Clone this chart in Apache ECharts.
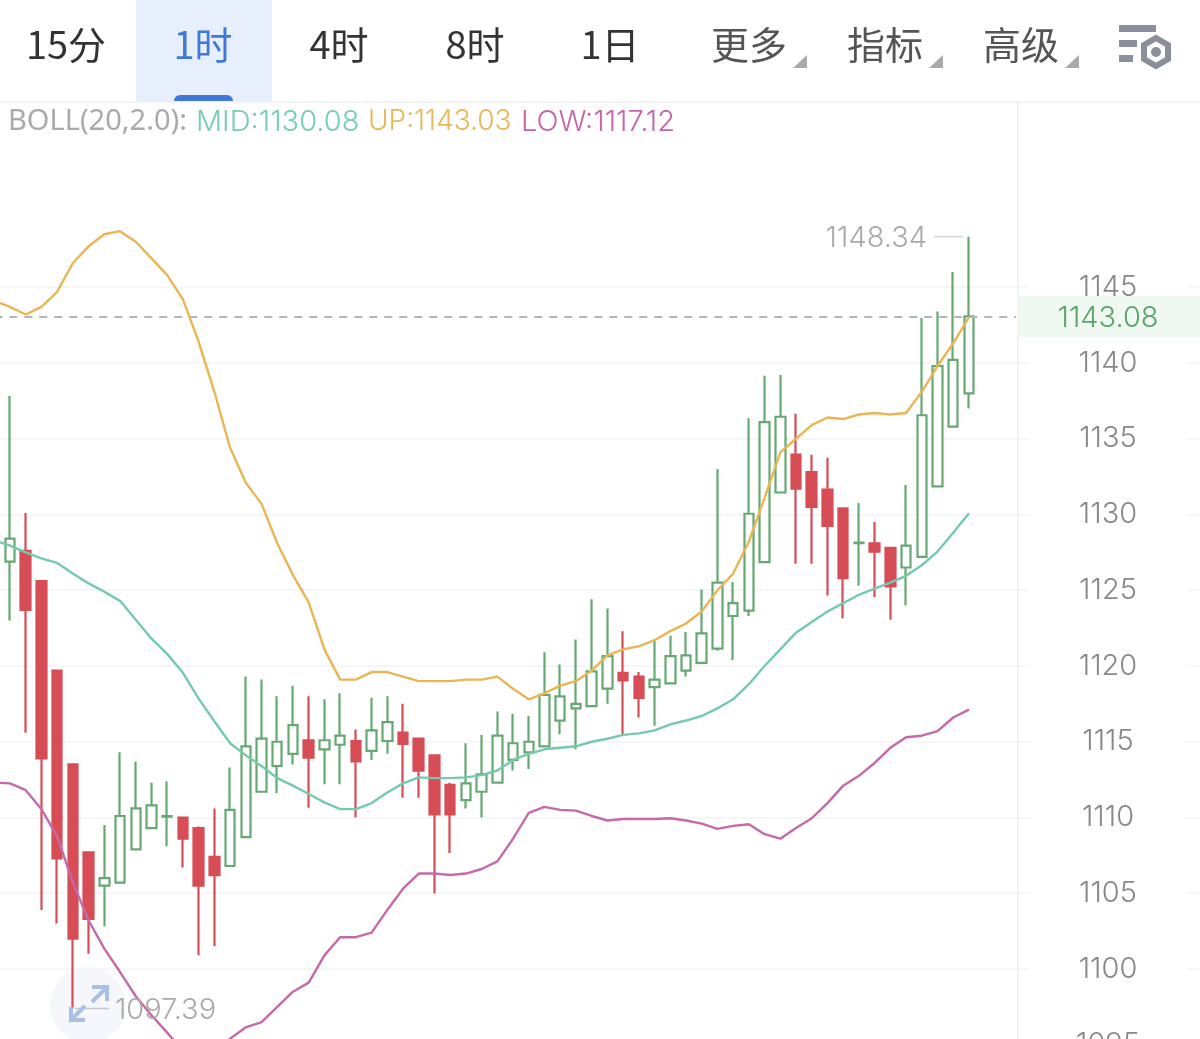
<!DOCTYPE html>
<html>
<head>
<meta charset="utf-8">
<style>
    html, body { margin: 0; padding: 0; background: #fff; }
    #main { width: 1200px; height: 1039px; }
</style>
<script src="https://cdn.jsdelivr.net/npm/echarts@6/dist/echarts.min.js"></script>
</head>
<body>
<div id="main"></div>
<script>
// [open, close, low, high]
var candles = [
    [1126.89, 1128.41, 1123.0, 1137.82],
    [1127.6, 1123.7, 1115.6, 1130.1],
    [1125.6, 1113.9, 1103.9, 1125.6],
    [1119.7, 1107.3, 1103.0, 1119.7],
    [1113.5, 1102.0, 1097.39, 1113.5],
    [1107.7, 1103.3, 1101.0, 1107.7],
    [1105.5, 1106.0, 1102.8, 1109.5],
    [1105.7, 1110.1, 1105.7, 1114.3],
    [1107.9, 1110.6, 1107.9, 1113.7],
    [1109.3, 1110.8, 1109.3, 1112.3],
    [1110.05, 1110.1, 1108.1, 1112.4],
    [1110.0, 1108.6, 1106.7, 1110.0],
    [1109.3, 1105.5, 1100.9, 1109.4],
    [1107.4, 1106.2, 1101.5, 1110.6],
    [1106.8, 1110.5, 1106.8, 1113.3],
    [1108.7, 1114.7, 1108.7, 1119.3],
    [1111.7, 1115.2, 1111.7, 1119.1],
    [1113.4, 1115.0, 1111.6, 1118.0],
    [1114.2, 1116.1, 1113.5, 1118.7],
    [1115.1, 1113.95, 1110.65, 1118.0],
    [1114.5, 1115.1, 1112.2, 1117.8],
    [1114.8, 1115.4, 1112.2, 1118.2],
    [1115.05, 1113.7, 1110.0, 1115.8],
    [1114.4, 1115.75, 1113.8, 1117.9],
    [1115.05, 1116.3, 1114.2, 1118.0],
    [1115.6, 1114.85, 1111.3, 1117.5],
    [1115.2, 1113.1, 1111.3, 1115.2],
    [1114.1, 1110.2, 1105.0, 1114.1],
    [1112.15, 1110.2, 1107.65, 1112.3],
    [1111.15, 1112.25, 1110.6, 1114.9],
    [1111.7, 1112.85, 1110.0, 1115.45],
    [1112.3, 1115.4, 1112.3, 1117.0],
    [1113.8, 1114.9, 1113.1, 1116.85],
    [1114.3, 1115.0, 1113.2, 1116.7],
    [1114.7, 1118.1, 1114.7, 1120.9],
    [1116.4, 1118.0, 1115.5, 1120.1],
    [1117.2, 1117.5, 1114.5, 1121.75],
    [1117.35, 1119.65, 1117.3, 1124.4],
    [1118.5, 1120.65, 1117.5, 1123.8],
    [1119.55, 1119.05, 1115.4, 1122.3],
    [1119.3, 1117.9, 1116.6, 1119.6],
    [1118.6, 1119.1, 1116.05, 1121.75],
    [1118.85, 1120.65, 1118.85, 1122.0],
    [1119.7, 1120.7, 1119.3, 1122.25],
    [1120.2, 1122.15, 1120.2, 1125.05],
    [1121.15, 1125.5, 1121.0, 1133.0],
    [1123.3, 1124.15, 1120.4, 1125.55],
    [1123.65, 1130.05, 1123.3, 1136.35],
    [1126.85, 1136.1, 1126.85, 1139.15],
    [1131.45, 1136.45, 1131.45, 1139.2],
    [1133.95, 1131.7, 1126.75, 1136.65],
    [1132.8, 1130.5, 1126.75, 1133.95],
    [1131.65, 1129.25, 1124.65, 1133.75],
    [1130.4, 1125.8, 1123.15, 1130.4],
    [1128.1, 1128.15, 1125.3, 1130.75],
    [1128.1, 1127.55, 1124.55, 1129.5],
    [1127.8, 1125.25, 1123.05, 1127.8],
    [1126.5, 1127.95, 1124.0, 1131.95],
    [1127.2, 1136.55, 1127.2, 1142.97],
    [1131.85, 1139.8, 1131.85, 1143.4],
    [1135.8, 1140.2, 1135.8, 1146.0],
    [1138.0, 1143.08, 1137.0, 1148.34]
];

// first value of each band belongs to the candle cut off at the left edge
var bollUp = [
    1144.1, 1143.7, 1143.2, 1143.7, 1144.7, 1146.6, 1147.7, 1148.5, 1148.7, 1148.0,
    1146.9, 1145.8, 1144.2, 1141.4, 1138.1, 1134.4, 1132.1, 1130.7, 1128.1, 1126.0,
    1124.2, 1121.1, 1119.1, 1119.1, 1119.6, 1119.6, 1119.3, 1119.0, 1119.0, 1119.0,
    1119.1, 1119.1, 1119.3, 1118.5, 1117.8, 1118.2, 1118.7, 1119.0, 1119.7, 1120.7,
    1121.1, 1121.3, 1121.7, 1122.3, 1122.8, 1123.6, 1125.0, 1126.1, 1128.2, 1131.1,
    1134.1, 1135.0, 1135.9, 1136.4, 1136.3, 1136.6, 1136.7, 1136.6, 1136.7, 1138.1,
    1139.8, 1141.3, 1143.03
];
var bollMid = [
    1128.3, 1127.95, 1127.5, 1127.1, 1126.8, 1126.1, 1125.45, 1124.9, 1124.3, 1123.05,
    1121.8, 1120.8, 1119.55, 1117.85, 1116.35, 1114.9, 1114.1, 1113.4, 1112.6, 1112.1,
    1111.55, 1111.0, 1110.55, 1110.55, 1110.95, 1111.65, 1112.25, 1112.65, 1112.6, 1112.6,
    1112.65, 1112.8, 1113.1, 1113.8, 1114.2, 1114.5, 1114.6, 1114.7, 1115.0, 1115.2,
    1115.45, 1115.55, 1115.75, 1116.15, 1116.4, 1116.7, 1117.2, 1117.8, 1118.8, 1120.0,
    1121.1, 1122.2, 1122.9, 1123.6, 1124.15, 1124.7, 1125.1, 1125.5, 1125.95, 1126.65,
    1127.55, 1128.8, 1130.08
];
var bollLow = [
    1112.3, 1112.25, 1111.8, 1110.55, 1108.75, 1105.7, 1103.2, 1101.35, 1099.8, 1098.2,
    1096.95, 1095.8, 1094.6, 1094.0, 1094.6, 1095.4, 1096.15, 1096.5, 1097.5, 1098.5,
    1099.1, 1100.9, 1102.1, 1102.1, 1102.4, 1103.9, 1105.3, 1106.3, 1106.3, 1106.2,
    1106.3, 1106.6, 1107.1, 1108.6, 1110.3, 1110.7, 1110.5, 1110.45, 1110.1, 1109.8,
    1109.9, 1109.9, 1109.9, 1109.95, 1109.8, 1109.6, 1109.25, 1109.45, 1109.55, 1108.9,
    1108.6, 1109.3, 1109.95, 1110.95, 1112.1, 1112.75, 1113.6, 1114.6, 1115.3, 1115.4,
    1115.7, 1116.6, 1117.12
];

var yTicks = [1095, 1100, 1105, 1110, 1115, 1120, 1125, 1130, 1135, 1140, 1145];
var tabs = ['15分', '1时', '4时', '8时', '1日'];
var menus = ['更多', '指标', '高级'];

const lastPrice = 1143.08;
const maxPrice = 1148.34;
const minPrice = 1097.39;

const up_color = '#66a874';
const down_color = '#d64d55';
const text_font = '"Noto Sans", sans-serif';
const num_font = 'Inter, sans-serif';
const cjk_font = '"Noto Sans CJK SC", sans-serif';

var categories = [];
for (var i = 0; i < candles.length + 16; i++) {
    categories.push(String(i));
}
var candleData = [['-', '-', '-', '-']].concat(candles);

function lineSeries(name, data, color) {
    return {
        name: name,
        type: 'line',
        data: data,
        showSymbol: false,
        silent: true,
        z: 5,
        lineStyle: { color: color, width: 2.4 }
    };
}

function toolbar() {
    var items = [
        { type: 'rect', shape: { x: 136, y: 0, width: 136, height: 102 }, style: { fill: '#e6effb' } },
        { type: 'rect', shape: { x: 174, y: 95, width: 59, height: 7, r: [6, 6, 0, 0] }, style: { fill: '#3f78d8' } },
        { type: 'line', shape: { x1: 0, y1: 102, x2: 1200, y2: 102 }, style: { stroke: '#f3f3f3', lineWidth: 2 } },
        { type: 'line', shape: { x1: 1018, y1: 102, x2: 1018, y2: 1039 }, style: { stroke: '#f3f3f3', lineWidth: 2 } }
    ];
    var tab_x = [66, 203, 339, 475, 610];
    for (var i = 0; i < tabs.length; i++) {
        items.push({
            type: 'text', x: tab_x[i], y: 45,
            style: {
                text: tabs[i], fill: i == 1 ? '#3f78d8' : '#333', font: '38px ' + cjk_font,
                align: 'center', verticalAlign: 'middle'
            }
        });
    }
    var menu_x = [749, 885, 1021];
    for (var j = 0; j < menus.length; j++) {
        items.push({
            type: 'text', x: menu_x[j], y: 45,
            style: {
                text: menus[j], fill: '#555', font: '38px ' + cjk_font,
                align: 'center', verticalAlign: 'middle'
            }
        });
        var tx = menu_x[j] + 58;
        items.push({
            type: 'polygon',
            shape: { points: [[tx, 68], [tx - 14, 68], [tx, 55]] },
            style: { fill: '#aaa' }
        });
    }
    // settings icon
    var bars = [[1119, 25, 37], [1119, 40, 18], [1119, 55, 14]];
    for (var k = 0; k < bars.length; k++) {
        items.push({
            type: 'rect',
            shape: { x: bars[k][0], y: bars[k][1], width: bars[k][2], height: 7 },
            style: { fill: '#8b8f9b' }
        });
    }
    items.push({
        type: 'polygon',
        shape: { points: [[1156, 38], [1168, 45], [1168, 59], [1156, 66], [1144, 59], [1144, 45]] },
        style: { fill: '#fff', stroke: '#8b8f9b', lineWidth: 6 }
    });
    items.push({ type: 'circle', shape: { cx: 1156, cy: 52, r: 5 }, style: { fill: '#8b8f9b' } });
    return items;
}

function legendRow() {
    var parts = [
        ['BOLL(20,2.0):', 8, '#aaaaaa', '29px ' + text_font],
        ['MID:1130.08', 196, '#76cdb0', '300 29px ' + num_font],
        ['UP:1143.03', 368, '#e8b75a', '300 28px ' + num_font],
        ['LOW:1117.12', 521, '#c466a8', '300 29px ' + num_font]
    ];
    return parts.map(function (p) {
        return {
            type: 'text', x: p[1], y: 122,
            style: { text: p[0], fill: p[2], font: p[3], verticalAlign: 'middle' }
        };
    });
}

function priceTag() {
    return [
        { type: 'rect', z: 100, shape: { x: 1019, y: 296, width: 181, height: 41 }, style: { fill: '#eff9f2' } },
        {
            type: 'text', z: 101, x: 1108, y: 318,
            style: {
                text: lastPrice.toFixed(2), fill: '#5aa469', font: '300 29px ' + num_font,
                align: 'center', verticalAlign: 'middle'
            }
        }
    ];
}

function expandIcon() {
    var arrow = { stroke: '#a9c0e6', lineWidth: 4, fill: null };
    return [
        { type: 'circle', z: 0, shape: { cx: 88, cy: 1005, r: 38 }, style: { fill: '#f5f7fc' } },
        { type: 'polyline', z: 90, shape: { points: [[92, 987], [107, 987], [107, 1001]] }, style: arrow },
        { type: 'line', z: 90, shape: { x1: 107, y1: 987, x2: 92, y2: 1002 }, style: arrow },
        { type: 'polyline', z: 90, shape: { points: [[71, 1007], [71, 1020], [85, 1020]] }, style: arrow },
        { type: 'line', z: 90, shape: { x1: 71, y1: 1020, x2: 85, y2: 1006 }, style: arrow }
    ];
}

// leader line and value next to the highest and lowest candle
function extremeLabels(chart) {
    var top_i = 62, low_i = 5;
    var top = chart.convertToPixel({ seriesIndex: 0 }, [top_i, maxPrice]);
    var low = chart.convertToPixel({ seriesIndex: 0 }, [low_i, minPrice]);
    var items = [
        { type: 'line', z: 50, shape: { x1: top[0] - 35, y1: top[1], x2: top[0] - 6, y2: top[1] }, style: { stroke: '#d5d5d5', lineWidth: 1.5 } },
        {
            type: 'text', z: 50, x: top[0] - 42, y: top[1] + 2,
            style: { text: maxPrice.toFixed(2), fill: '#aaa', font: '300 29px ' + num_font, align: 'right', verticalAlign: 'middle' }
        },
        { type: 'line', z: 50, shape: { x1: low[0] + 2, y1: low[1], x2: low[0] + 36, y2: low[1] }, style: { stroke: '#c8c8c8', lineWidth: 1.5 } },
        {
            type: 'text', z: 50, x: low[0] + 42, y: low[1] + 2,
            style: { text: minPrice.toFixed(2), fill: '#aaa', font: '300 29px ' + num_font, verticalAlign: 'middle' }
        }
    ];
    return items;
}

function setData() {
    var myChart = echarts.init(document.getElementById('main'));
    var base = toolbar().concat(legendRow(), priceTag(), expandIcon());
    var option = {
        animation: false,
        backgroundColor: '#fff',
        grid: { left: -13.58, right: -12.6, top: 103, bottom: -5.75, outerBoundsMode: 'none' },
        xAxis: {
            type: 'category',
            data: categories,
            show: false
        },
        yAxis: {
            type: 'value',
            position: 'right',
            min: 1095,
            max: 1157.16,
            interval: 5,
            axisLine: { show: false },
            axisTick: { show: false, customValues: yTicks },
            axisLabel: {
                inside: true,
                customValues: yTicks,
                margin: 104.6,
                align: 'center',
                color: '#888',
                fontSize: 29,
                fontWeight: 300,
                fontFamily: num_font,
                backgroundColor: '#fff',
                padding: [4, 50, 0, 50],
                formatter: function (v) { return String(v); }
            },
            splitLine: { show: true, lineStyle: { color: '#f6f6f6', width: 2 } }
        },
        series: [
            {
                type: 'candlestick',
                data: candleData,
                barWidth: 10,
                itemStyle: {
                    color: '#fff',
                    borderColor: up_color,
                    color0: down_color,
                    borderColor0: down_color,
                    borderWidth: 2.2
                },
                markLine: {
                    silent: true,
                    symbol: 'none',
                    label: { show: false },
                    lineStyle: { color: '#b5b5b5', width: 2, type: [8, 7] },
                    data: [[{ coord: [0, lastPrice] }, { coord: [65, lastPrice] }]]
                }
            },
            lineSeries('UP', bollUp, '#e9b654'),
            lineSeries('MID', bollMid, '#76c9ad'),
            lineSeries('LOW', bollLow, '#c56aa8')
        ],
        graphic: { elements: base }
    };
    myChart.setOption(option);
    myChart.setOption({ graphic: { elements: base.concat(extremeLabels(myChart)) } }, { replaceMerge: ['graphic'] });
}

setData();
</script>
</body>
</html>
